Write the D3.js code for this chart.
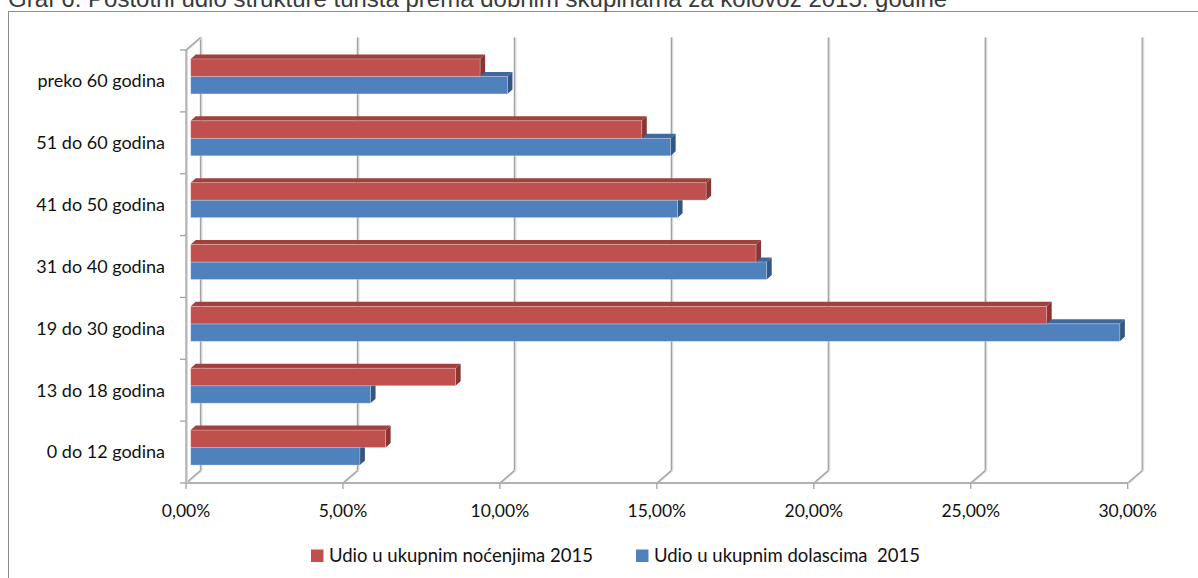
<!DOCTYPE html>
<html>
<head>
<meta charset="utf-8">
<script src="https://cdn.jsdelivr.net/npm/d3@7"></script>
<style>
  body { margin: 0; background: #fff; overflow: hidden; }
  svg { display: block; }
</style>
</head>
<body>
<script>
var svgWidth = 1198;
var svgHeight = 578;

// data, bottom to top as in the chart (percent)
var categories = ["0 do 12 godina", "13 do 18 godina", "19 do 30 godina", "31 do 40 godina",
                  "41 do 50 godina", "51 do 60 godina", "preko 60 godina"];
var nocenja = [6.21, 8.44, 27.27, 18.01, 16.42, 14.37, 9.22];
var dolasci = [5.39, 5.73, 29.60, 18.35, 15.51, 15.29, 10.09];
var xTicks = [0, 5, 10, 15, 20, 25, 30];
var seriesNames = ["Udio u ukupnim noćenjima 2015", "Udio u ukupnim dolascima  2015"];
var title = "Graf 6: Postotni udio strukture turista prema dobnim skupinama za kolovoz 2015. godine";

var plot = { left: 186, right: 1127.7, top: 50, bottom: 483 };
// depth of the 3d box (back wall offset) and of each bar
var depth = { dx: 14.5, dy: -12.5 };
var barDepth = { dx: 5, dy: -4.5 };
var barShift = { dx: 4.7, dy: -4.5 };
var barH = 17.5;

var colors = {
  red:  { front: "#C0504D", top: "#A1403D", side: "#8A3532" },
  blue: { front: "#4F81BD", top: "#40689A", side: "#335783" }
};

var svg = d3.select("body").append("svg")
  .attr("width", svgWidth)
  .attr("height", svgHeight);

// outer frame
svg.append("rect")
  .attr("x", 8.5).attr("y", 11.5)
  .attr("width", 1400).attr("height", 800)
  .attr("fill", "none")
  .attr("stroke", "#8c8c8c");

// title, cut off at the top edge like in the source
svg.append("text")
  .attr("x", 8).attr("y", 6.5)
  .attr("font-family", "Liberation Sans, Arial, sans-serif")
  .attr("font-size", 24)
  .attr("fill", "#3a3a3a")
  .text(title);

var x = d3.scaleLinear().domain([0, 30]).range([plot.left, plot.right]);
var y = d3.scaleBand().domain(categories.slice().reverse()).range([plot.top, plot.bottom]);

var grid = svg.append("g");

function gridLine(x1, y1, x2, y2) {
  grid.append("line")
    .attr("x1", x1 + 1).attr("y1", y1).attr("x2", x2 + 1).attr("y2", y2)
    .attr("stroke", "#d9d9d9").attr("stroke-width", 2);
  grid.append("line")
    .attr("x1", x1).attr("y1", y1).attr("x2", x2).attr("y2", y2)
    .attr("stroke", "#a3a3a3").attr("stroke-width", 1.3);
}

// back wall gridlines + floor diagonals
xTicks.forEach(function (t) {
  var xf = x(t);
  gridLine(xf + depth.dx, plot.top + depth.dy, xf + depth.dx, plot.bottom + depth.dy);
  gridLine(xf, plot.bottom, xf + depth.dx, plot.bottom + depth.dy);
});

// front floor edge (value axis)
gridLine(plot.left, plot.bottom, plot.right, plot.bottom);
// left wall edge (category axis)
gridLine(plot.left, plot.top, plot.left, plot.bottom);
gridLine(plot.left, plot.top, plot.left + depth.dx, plot.top + depth.dy);

// axis tick marks
xTicks.forEach(function (t) {
  grid.append("line")
    .attr("x1", x(t)).attr("x2", x(t))
    .attr("y1", plot.bottom).attr("y2", plot.bottom + 6)
    .attr("stroke", "#a3a3a3").attr("stroke-width", 1.3);
});
var bounds = y.domain().map(function (c) { return y(c); }).concat([plot.bottom]);
bounds.forEach(function (b) {
  grid.append("line")
    .attr("x1", plot.left - 6).attr("x2", plot.left)
    .attr("y1", b).attr("y2", b)
    .attr("stroke", "#a3a3a3").attr("stroke-width", 1.3);
});

// 3d bar: front rectangle, top face and right face
function bar3d(g, x0, x1, yTop, h, c) {
  var d = barDepth;
  g.append("polygon")
    .attr("points", [[x0, yTop], [x0 + d.dx, yTop + d.dy], [x1 + d.dx, yTop + d.dy], [x1, yTop]].join(" "))
    .attr("fill", c.top);
  g.append("polygon")
    .attr("points", [[x1, yTop], [x1 + d.dx, yTop + d.dy], [x1 + d.dx, yTop + h + d.dy], [x1, yTop + h]].join(" "))
    .attr("fill", c.side);
  g.append("rect")
    .attr("x", x0).attr("y", yTop)
    .attr("width", x1 - x0).attr("height", h)
    .attr("fill", c.front)
    .attr("stroke", "#ffffff").attr("stroke-opacity", 0.35).attr("stroke-width", 0.8);
}

var bars = svg.append("g");
categories.forEach(function (cat, i) {
  var mid = y(cat) + y.bandwidth() / 2 + barShift.dy;
  var x0 = x(0) + barShift.dx;
  var g = bars.append("g");
  // blue (lower) first so the red bar covers its top face
  bar3d(g, x0, x(dolasci[i]) + barShift.dx, mid, barH, colors.blue);
  bar3d(g, x0, x(nocenja[i]) + barShift.dx, mid - barH, barH, colors.red);
});

var labelFont = "Lato, Calibri, sans-serif";

// category labels
svg.append("g").selectAll("text")
  .data(categories)
  .join("text")
  .attr("x", 165)
  .attr("y", function (d) { return y(d) + y.bandwidth() / 2; })
  .attr("dy", "0.35em")
  .attr("text-anchor", "end")
  .attr("font-family", labelFont)
  .attr("font-size", 18)
  .attr("fill", "#111")
  .text(function (d) { return d; });

// value labels
var fmt = function (t) { return d3.format(".2f")(t).replace(".", ",") + "%"; };
svg.append("g").selectAll("text")
  .data(xTicks)
  .join("text")
  .attr("x", function (d) { return x(d); })
  .attr("y", 511)
  .attr("dy", "0.35em")
  .attr("text-anchor", "middle")
  .attr("font-family", labelFont)
  .attr("font-size", 17.5)
  .attr("fill", "#111")
  .text(fmt);

// legend
var legendX = [311, 636];
var legendColors = [colors.red.front, colors.blue.front];
var legend = svg.append("g").selectAll("g")
  .data(seriesNames)
  .join("g")
  .attr("transform", function (d, i) { return "translate(" + legendX[i] + ",549.5)"; });
legend.append("rect")
  .attr("width", 12.5).attr("height", 12.5)
  .attr("fill", function (d, i) { return legendColors[i]; });
legend.append("text")
  .attr("x", 18).attr("y", 6.5)
  .attr("dy", "0.35em")
  .attr("font-family", labelFont)
  .attr("font-size", 18.5)
  .attr("fill", "#111")
  .attr("xml:space", "preserve")
  .style("white-space", "pre")
  .text(function (d) { return d; });
</script>
</body>
</html>
